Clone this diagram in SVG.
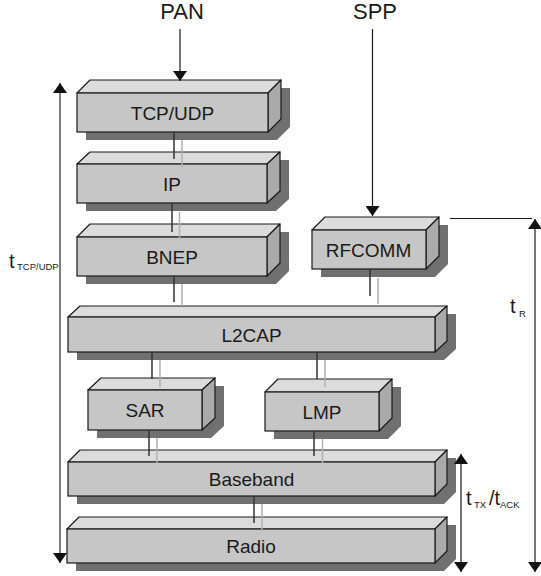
<svg xmlns="http://www.w3.org/2000/svg" width="541" height="576" viewBox="0 0 541 576">
<defs>
<style>
.sh{fill:#707070;stroke:none}
.top{fill:#dcdcdc;stroke:#1a1a1a;stroke-width:1.2;stroke-linejoin:round}
.side{fill:#aaaaaa;stroke:#1a1a1a;stroke-width:1.2;stroke-linejoin:round}
.front{fill:#c6c6c6;stroke:#1a1a1a;stroke-width:1.2}
.lbl{font-family:"Liberation Sans",Arial,sans-serif;font-size:19px;fill:#1a1a1a;text-anchor:middle}
.big{font-family:"Liberation Sans",Arial,sans-serif;font-size:22px;fill:#1a1a1a;text-anchor:middle}
.t{font-family:"Liberation Sans",Arial,sans-serif;font-size:20px;fill:#1a1a1a}
.sub{font-family:"Liberation Sans",Arial,sans-serif;font-size:9.5px;fill:#1a1a1a}
.dk{stroke:#333;stroke-width:1.5;fill:none}
.lt{stroke:#b0b0b0;stroke-width:1.5;fill:none}
.arr{stroke:#1a1a1a;stroke-width:1.2;fill:none}
.dim{stroke:#555;stroke-width:1.5;fill:none}
</style>
<marker id="ah" viewBox="0 0 10 14" refX="10" refY="7" markerWidth="10" markerHeight="14" markerUnits="userSpaceOnUse" orient="auto-start-reverse">
<path d="M0,0 L10,7 L0,14 Z" fill="#111"/>
</marker>
</defs>

<g id="tcpudp">
<polygon class="sh" points="86,101 99,88 290,88 290,127 277,140 86,140"/>
<polygon class="top" points="77,93 90,80 281,80 268,93"/>
<polygon class="side" points="268,93 281,80 281,119 268,132"/>
<rect class="front" x="77" y="93" width="191" height="39"/>
<text class="lbl" x="172.5" y="119.5">TCP/UDP</text>
</g>
<g id="ip">
<polygon class="sh" points="86,172 99,160 289,160 289,199 276,211 86,211"/>
<polygon class="top" points="77,164 90,152 280,152 267,164"/>
<polygon class="side" points="267,164 280,152 280,191 267,203"/>
<rect class="front" x="77" y="164" width="190" height="39"/>
<text class="lbl" x="172" y="190.5">IP</text>
</g>
<g id="bnep">
<polygon class="sh" points="86,245 99,232 289,232 289,271 276,284 86,284"/>
<polygon class="top" points="77,237 90,224 280,224 267,237"/>
<polygon class="side" points="267,237 280,224 280,263 267,276"/>
<rect class="front" x="77" y="237" width="190" height="39"/>
<text class="lbl" x="172" y="263.5">BNEP</text>
</g>
<g id="rfcomm">
<polygon class="sh" points="321,238 334,225 448,225 448,264 435,277 321,277"/>
<polygon class="top" points="312,230 325,217 439,217 426,230"/>
<polygon class="side" points="426,230 439,217 439,256 426,269"/>
<rect class="front" x="312" y="230" width="114" height="39"/>
<text class="lbl" x="368.5" y="256.5">RFCOMM</text>
</g>
<g id="l2cap">
<polygon class="sh" points="77,325 89,314 456,314 456,349 444,360 77,360"/>
<polygon class="top" points="68,317 80,306 447,306 435,317"/>
<polygon class="side" points="435,317 447,306 447,341 435,352"/>
<rect class="front" x="68" y="317" width="367" height="35"/>
<text class="lbl" x="251.5" y="341.5">L2CAP</text>
</g>
<g id="sar">
<polygon class="sh" points="97,398 110,386 224,386 224,426 211,438 97,438"/>
<polygon class="top" points="88,390 101,378 215,378 202,390"/>
<polygon class="side" points="202,390 215,378 215,418 202,430"/>
<rect class="front" x="88" y="390" width="114" height="40"/>
<text class="lbl" x="145" y="417">SAR</text>
</g>
<g id="lmp">
<polygon class="sh" points="274,400 287,387 401,387 401,426 388,439 274,439"/>
<polygon class="top" points="265,392 278,379 392,379 379,392"/>
<polygon class="side" points="379,392 392,379 392,418 379,431"/>
<rect class="front" x="265" y="392" width="114" height="39"/>
<text class="lbl" x="322" y="418.5">LMP</text>
</g>
<g id="baseband">
<polygon class="sh" points="77,470 89,458 456,458 456,492 444,504 77,504"/>
<polygon class="top" points="68,462 80,450 447,450 435,462"/>
<polygon class="side" points="435,462 447,450 447,484 435,496"/>
<rect class="front" x="68" y="462" width="367" height="34"/>
<text class="lbl" x="251.5" y="486">Baseband</text>
</g>
<g id="radio">
<polygon class="sh" points="76,537 88,525 456,525 456,559 444,571 76,571"/>
<polygon class="top" points="67,529 79,517 447,517 435,529"/>
<polygon class="side" points="435,529 447,517 447,551 435,563"/>
<rect class="front" x="67" y="529" width="368" height="34"/>
<text class="lbl" x="251" y="553">Radio</text>
</g>

<g id="connectors">
<line class="dk" x1="174" y1="132" x2="174" y2="159"/>
<line class="lt" x1="182" y1="140" x2="182" y2="167"/>
<line class="dk" x1="172" y1="203" x2="172" y2="232"/>
<line class="lt" x1="179.5" y1="212" x2="179.5" y2="239"/>
<line class="dk" x1="174" y1="276" x2="174" y2="302"/>
<line class="lt" x1="182" y1="284" x2="182" y2="306"/>
<line class="dk" x1="370" y1="269" x2="370" y2="296"/>
<line class="lt" x1="378" y1="278" x2="378" y2="304"/>
<line class="dk" x1="152" y1="352" x2="152" y2="379"/>
<line class="lt" x1="160" y1="360" x2="160" y2="387"/>
<line class="dk" x1="317" y1="352" x2="317" y2="379"/>
<line class="lt" x1="325" y1="360" x2="325" y2="387"/>
<line class="dk" x1="149" y1="430" x2="149" y2="456"/>
<line class="lt" x1="157" y1="438" x2="157" y2="463"/>
<line class="dk" x1="314" y1="431" x2="314" y2="456"/>
<line class="lt" x1="322.5" y1="439" x2="322.5" y2="463"/>
<line class="dk" x1="254" y1="496" x2="254" y2="523"/>
<line class="lt" x1="262" y1="504" x2="262" y2="531"/>
<line class="arr" x1="180" y1="29" x2="180" y2="81" marker-end="url(#ah)"/>
<line class="arr" x1="372.5" y1="29" x2="372.5" y2="216" marker-end="url(#ah)"/>
<line class="dim" x1="60" y1="83" x2="60" y2="563" marker-start="url(#ah)" marker-end="url(#ah)"/>
<line class="arr" x1="450" y1="218.5" x2="532" y2="218.5"/>
<line class="arr" x1="535" y1="219" x2="535" y2="572" marker-start="url(#ah)" marker-end="url(#ah)"/>
<line class="arr" x1="461" y1="454" x2="461" y2="572" marker-start="url(#ah)" marker-end="url(#ah)"/>
</g>

<g id="labels">
<text class="big" x="182" y="18.5">PAN</text>
<text class="big" x="375" y="18.5">SPP</text>
<text class="t" x="9" y="268">t</text>
<text class="sub" x="17" y="270">TCP/UDP</text>
<text class="t" x="510" y="313">t</text>
<text class="sub" x="519" y="317">R</text>
<text class="t" x="466" y="505">t</text>
<text class="sub" x="474" y="508">TX</text>
<text class="t" x="489" y="505">/t</text>
<text class="sub" x="500" y="508">ACK</text>
</g>
</svg>
